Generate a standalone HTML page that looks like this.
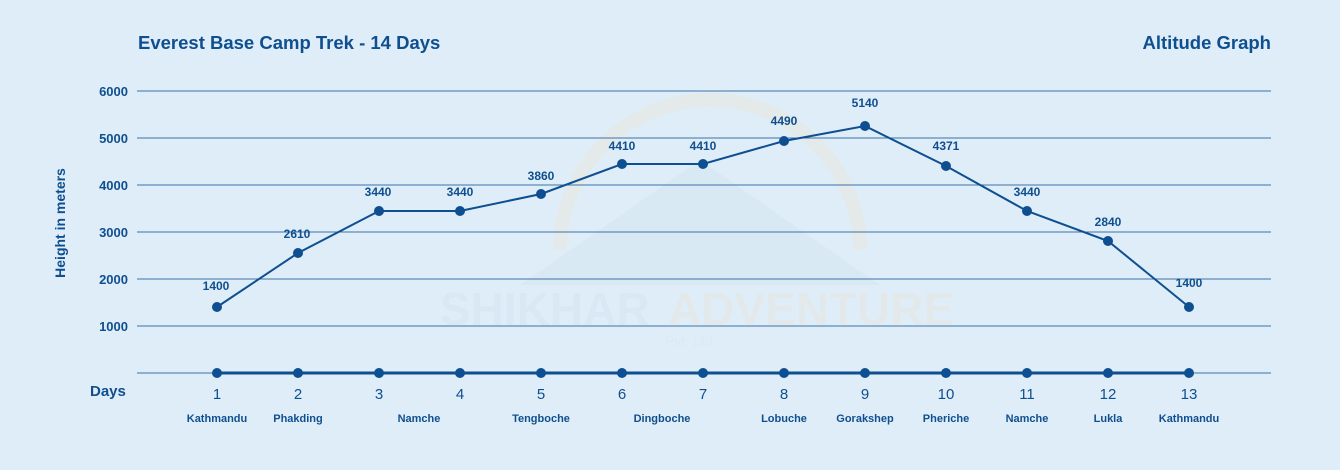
<!DOCTYPE html>
<html><head><meta charset="utf-8"><style>
html,body{margin:0;padding:0;background:#dfedf8;}
svg{display:block;font-family:"Liberation Sans",sans-serif;}
</style></head><body>
<svg width="1340" height="470" viewBox="0 0 1340 470" xmlns="http://www.w3.org/2000/svg">
<rect width="1340" height="470" fill="#dfedf8"/>
<!-- watermark -->
<g opacity="0.35">
<path d="M560,250 A150,150 0 0 1 860,250" fill="none" stroke="#efe2cf" stroke-width="14"/>
<polygon points="520,285 700,160 880,285" fill="#cfe2ef"/>
<text x="440" y="325" font-size="46" font-weight="bold" fill="#cfe1ee">SHIKHAR</text>
<text x="668" y="325" font-size="46" font-weight="bold" fill="#ede2d2">ADVENTURE</text>
<text x="665" y="346" font-size="14" fill="#d3e3ef">Pvt. Ltd.</text>
</g>
<text x="138" y="49" font-size="18.5" font-weight="bold" fill="#0f4f8f">Everest Base Camp Trek - 14 Days</text>
<text x="1271" y="49" font-size="18.5" font-weight="bold" fill="#0f4f8f" text-anchor="end">Altitude Graph</text>
<g stroke="#3e74a8" stroke-width="1">
<line x1="137" y1="91" x2="1271" y2="91"/>
<line x1="137" y1="138" x2="1271" y2="138"/>
<line x1="137" y1="185" x2="1271" y2="185"/>
<line x1="137" y1="232" x2="1271" y2="232"/>
<line x1="137" y1="279" x2="1271" y2="279"/>
<line x1="137" y1="326" x2="1271" y2="326"/>
<line x1="137" y1="373" x2="1271" y2="373"/>
</g>
<line x1="217" y1="373" x2="1189" y2="373" stroke="#0d4f90" stroke-width="3"/>
<g font-size="13" font-weight="bold" fill="#0f4f8f" text-anchor="end">
<text x="128" y="96">6000</text><text x="128" y="143">5000</text><text x="128" y="190">4000</text>
<text x="128" y="237">3000</text><text x="128" y="284">2000</text><text x="128" y="331">1000</text>
</g>
<text transform="translate(65,223) rotate(-90)" font-size="14" font-weight="bold" fill="#0f4f8f" text-anchor="middle">Height in meters</text>
<text x="90" y="396" font-size="15" font-weight="bold" fill="#0f4f8f">Days</text>
<polyline fill="none" stroke="#0d4f90" stroke-width="2" points="217,307 298,253 379,211 460,211 541,194 622,164 703,164 784,141 865,126 946,166 1027,211 1108,241 1189,307"/>
<g fill="#0d4f90">
<circle cx="217" cy="307" r="5"/><circle cx="298" cy="253" r="5"/><circle cx="379" cy="211" r="5"/><circle cx="460" cy="211" r="5"/><circle cx="541" cy="194" r="5"/><circle cx="622" cy="164" r="5"/><circle cx="703" cy="164" r="5"/><circle cx="784" cy="141" r="5"/><circle cx="865" cy="126" r="5"/><circle cx="946" cy="166" r="5"/><circle cx="1027" cy="211" r="5"/><circle cx="1108" cy="241" r="5"/><circle cx="1189" cy="307" r="5"/>
<circle cx="217" cy="373" r="5"/><circle cx="298" cy="373" r="5"/><circle cx="379" cy="373" r="5"/><circle cx="460" cy="373" r="5"/><circle cx="541" cy="373" r="5"/><circle cx="622" cy="373" r="5"/><circle cx="703" cy="373" r="5"/><circle cx="784" cy="373" r="5"/><circle cx="865" cy="373" r="5"/><circle cx="946" cy="373" r="5"/><circle cx="1027" cy="373" r="5"/><circle cx="1108" cy="373" r="5"/><circle cx="1189" cy="373" r="5"/>
</g>
<g font-size="12" font-weight="bold" fill="#0f4f8f" text-anchor="middle">
<text x="216" y="290">1400</text><text x="297" y="238">2610</text><text x="378" y="196">3440</text><text x="460" y="196">3440</text>
<text x="541" y="180">3860</text><text x="622" y="150">4410</text><text x="703" y="150">4410</text><text x="784" y="125">4490</text>
<text x="865" y="107">5140</text><text x="946" y="150">4371</text><text x="1027" y="196">3440</text><text x="1108" y="226">2840</text><text x="1189" y="287">1400</text>
</g>
<g font-size="15" fill="#0f4f8f" text-anchor="middle">
<text x="217" y="399">1</text><text x="298" y="399">2</text><text x="379" y="399">3</text><text x="460" y="399">4</text><text x="541" y="399">5</text><text x="622" y="399">6</text><text x="703" y="399">7</text><text x="784" y="399">8</text><text x="865" y="399">9</text><text x="946" y="399">10</text><text x="1027" y="399">11</text><text x="1108" y="399">12</text><text x="1189" y="399">13</text>
</g>
<g font-size="11" font-weight="bold" fill="#0f4f8f" text-anchor="middle">
<text x="217" y="422">Kathmandu</text><text x="298" y="422">Phakding</text><text x="419" y="422">Namche</text><text x="541" y="422">Tengboche</text><text x="662" y="422">Dingboche</text><text x="784" y="422">Lobuche</text><text x="865" y="422">Gorakshep</text><text x="946" y="422">Pheriche</text><text x="1027" y="422">Namche</text><text x="1108" y="422">Lukla</text><text x="1189" y="422">Kathmandu</text>
</g>
</svg>
</body></html>
